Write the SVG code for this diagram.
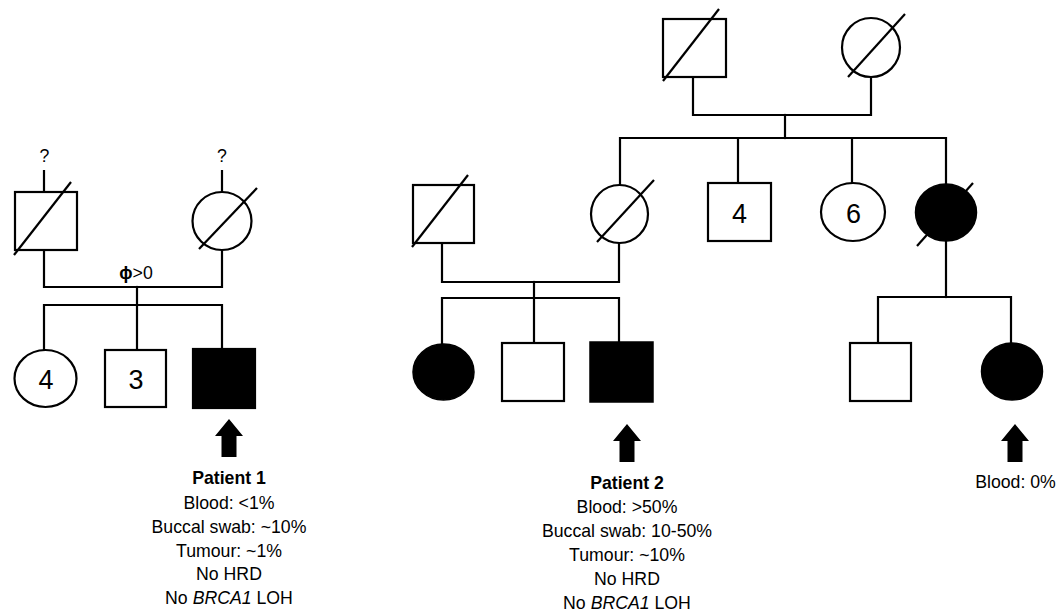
<svg xmlns="http://www.w3.org/2000/svg" width="1058" height="615" viewBox="0 0 1058 615">
<style>
.ln{stroke:#000;stroke-width:2.2;fill:none;stroke-linecap:square}
.sh{stroke:#000;stroke-width:2.2;fill:#fff}
.af{stroke:#000;stroke-width:1.5;fill:#000}
.dg{stroke:#000;stroke-width:2.2;fill:none}
.num{font-family:"Liberation Sans",Arial,sans-serif;font-size:27px;text-anchor:middle;fill:#000}
.lbl{font-family:"Liberation Sans",Arial,sans-serif;font-size:17.7px;text-anchor:middle;fill:#000}
.b{font-weight:bold}
</style>
<defs>
<path id="arrow" d="M0,0 L14,17 L7.5,17 L7.5,38 L-7.5,38 L-7.5,17 L-14,17 Z" fill="#000"/>
</defs>
<g id="connectors">
<!-- left family -->
<path class="ln" d="M44,171 V192 M222,171 V192"/>
<path class="ln" d="M44,250 V287 H222 V250"/>
<path class="ln" d="M137,287 V305"/>
<path class="ln" d="M44,350 V305 H222 V349 M137,305 V350"/>
<!-- middle family -->
<path class="ln" d="M693,77 V115 H871 V77"/>
<path class="ln" d="M785,115 V138"/>
<path class="ln" d="M620,184 V138 H946 V184 M738,138 V183 M852,138 V183"/>
<path class="ln" d="M442,243 V282 H619 V243"/>
<path class="ln" d="M534,282 V298"/>
<path class="ln" d="M442,344 V298 H619 V342 M534,298 V343"/>
<path class="ln" d="M946,241 V297"/>
<path class="ln" d="M878,343 V297 H1011 V343"/>
</g>
<g id="left-grandfather">
<text class="lbl" x="44.5" y="162">?</text>
<rect class="sh" x="15" y="192" width="62" height="58"/>
<line class="dg" x1="14" y1="255" x2="71" y2="182"/>
</g>
<g id="left-grandmother">
<text class="lbl" x="222" y="162">?</text>
<ellipse class="sh" cx="222" cy="221" rx="29.5" ry="29"/>
<line class="dg" x1="199" y1="249" x2="257" y2="188"/>
</g>
<g id="left-mosaic-label">
<text class="lbl" x="136" y="279"><tspan class="b">ɸ</tspan>&gt;0</text>
</g>
<g id="left-sisters">
<ellipse class="sh" cx="45.5" cy="378.5" rx="31" ry="28.5"/>
<text class="num" x="46" y="389">4</text>
</g>
<g id="left-brothers">
<rect class="sh" x="105" y="350" width="61" height="57"/>
<text class="num" x="136" y="389">3</text>
</g>
<g id="patient1">
<rect class="sh" x="193" y="349" width="62" height="59" fill="#000" style="fill:#000"/>
<use href="#arrow" x="229" y="419"/>
<text class="lbl b" x="229" y="484">Patient 1</text>
<text class="lbl" x="229" y="508.5">Blood: &lt;1%</text>
<text class="lbl" x="229" y="532.5">Buccal swab: ~10%</text>
<text class="lbl" x="229" y="556.5">Tumour: ~1%</text>
<text class="lbl" x="229" y="580">No HRD</text>
<text class="lbl" x="229" y="603.5">No <tspan font-style="italic">BRCA1</tspan> LOH</text>
</g>
<g id="top-grandfather">
<rect class="sh" x="663" y="19" width="63" height="58"/>
<line class="dg" x1="663" y1="81" x2="719" y2="9"/>
</g>
<g id="top-grandmother">
<ellipse class="sh" cx="871" cy="47.5" rx="29" ry="29.5"/>
<line class="dg" x1="848" y1="77" x2="905" y2="14"/>
</g>
<g id="father">
<rect class="sh" x="413" y="185" width="61" height="58"/>
<line class="dg" x1="412" y1="247" x2="468" y2="175"/>
</g>
<g id="mother">
<ellipse class="sh" cx="619.5" cy="214" rx="28.5" ry="29"/>
<line class="dg" x1="597" y1="242" x2="654" y2="180"/>
</g>
<g id="uncles">
<rect class="sh" x="708" y="183" width="63" height="58"/>
<text class="num" x="739.5" y="222.5">4</text>
</g>
<g id="aunts">
<ellipse class="sh" cx="853" cy="212" rx="32" ry="29"/>
<text class="num" x="853.5" y="222.5">6</text>
</g>
<g id="affected-aunt">
<ellipse class="af" cx="946" cy="212.5" rx="30.5" ry="28.5"/>
<line class="dg" x1="917" y1="246" x2="973" y2="183"/>
</g>
<g id="sister">
<ellipse class="af" cx="443.5" cy="372" rx="30.5" ry="28"/>
</g>
<g id="brother">
<rect class="sh" x="502" y="343" width="62" height="58"/>
</g>
<g id="patient2">
<rect class="af" x="590" y="342" width="63" height="60"/>
<use href="#arrow" x="627" y="424"/>
<text class="lbl b" x="627" y="489">Patient 2</text>
<text class="lbl" x="627" y="513">Blood: &gt;50%</text>
<text class="lbl" x="627" y="537">Buccal swab: 10-50%</text>
<text class="lbl" x="627" y="561">Tumour: ~10%</text>
<text class="lbl" x="627" y="585">No HRD</text>
<text class="lbl" x="627" y="609">No <tspan font-style="italic">BRCA1</tspan> LOH</text>
</g>
<g id="cousin-male">
<rect class="sh" x="850" y="343" width="61" height="58"/>
</g>
<g id="cousin-female">
<ellipse class="af" cx="1012" cy="371.5" rx="30.5" ry="28.5"/>
<use href="#arrow" x="1015" y="424"/>
<text class="lbl" x="1015.5" y="488">Blood: 0%</text>
</g>
</svg>
